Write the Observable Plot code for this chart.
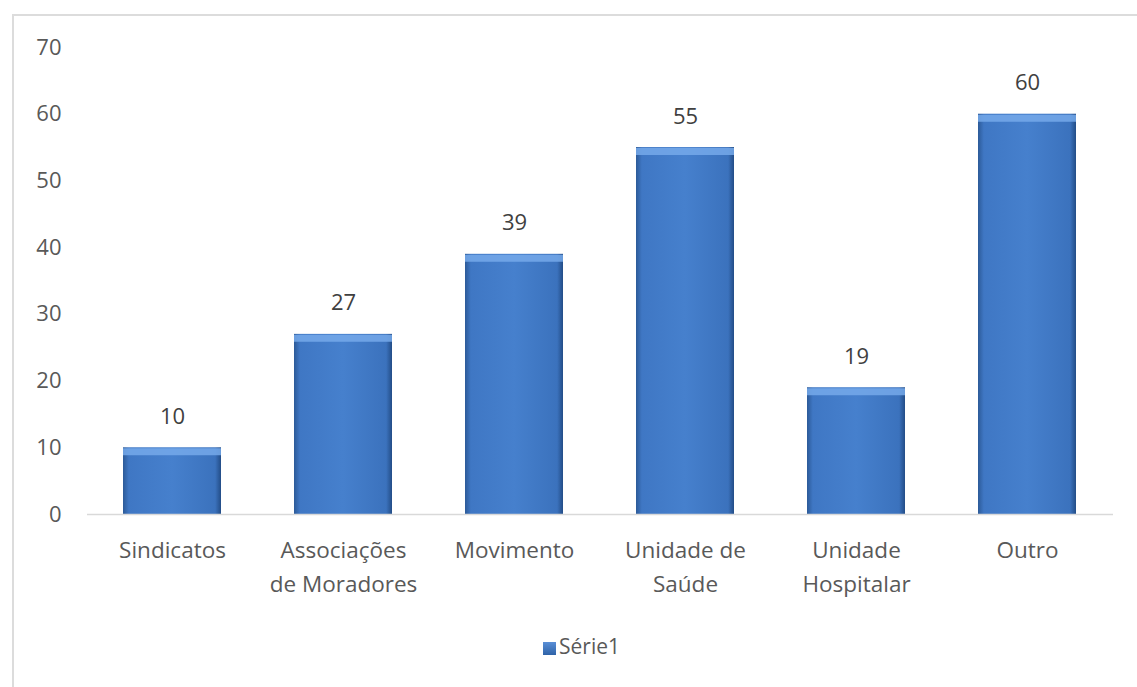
<!DOCTYPE html>
<html>
<head>
<meta charset="utf-8">
<script src="https://cdn.jsdelivr.net/npm/d3@7"></script>
<script src="https://cdn.jsdelivr.net/npm/@observablehq/plot@0.6"></script>
<style>
  html, body { margin: 0; padding: 0; background: #fff; }
  #wrap { position: relative; width: 1137px; height: 687px; overflow: hidden; font-family: "Open Sans", sans-serif; }
  #frame { position: absolute; left: 12px; top: 14px; width: 1200px; height: 800px; border-top: 2px solid #dcdcdc; border-left: 2px solid #dcdcdc; }
  #chart { position: absolute; left: 0; top: 0; }
  #legend { position: absolute; top: 632px; left: 0; width: 1137px; text-align: center; font-size: 21px; color: #595959; padding-left: 26px; box-sizing: border-box; }
  #legend .sw { display: inline-block; width: 13px; height: 13px; background: linear-gradient(#5a8fd6, #2f63a8); vertical-align: -1px; margin-right: 3px; }
</style>
</head>
<body>
<div id="wrap">
  <div id="frame"></div>
  <div id="chart"></div>
  <div id="legend"><span class="sw"></span>Série1</div>
</div>
<script>
const categories = ["Sindicatos", "Associações\nde Moradores", "Movimento", "Unidade de\nSaúde", "Unidade\nHospitalar", "Outro"];
const values = [10, 27, 39, 55, 19, 60];
const yTicks = [0, 10, 20, 30, 40, 50, 60, 70];
const seriesName = "Série1";

const data = categories.map((c, i) => ({category: c, value: values[i]}));

const chart = Plot.plot({
  width: 1137,
  height: 620,
  marginTop: 47,
  marginBottom: 106,
  marginLeft: 87,
  marginRight: 24,
  style: {fontFamily: "'Open Sans', sans-serif", fontSize: "22px", color: "#595959", background: "transparent"},
  x: {domain: categories, paddingInner: 0.425, paddingOuter: 0.2125, label: null},
  y: {domain: [0, 70], label: null},
  marks: [
    Plot.axisY({ticks: yTicks, tickSize: 0, tickPadding: 26, fontSize: 22, fill: "#595959", label: null}),
    Plot.axisX({tickSize: 0, tickPadding: 19, fontSize: 22.5, lineHeight: 1.52, fill: "#595959", label: null}),
    Plot.barY(data, {x: "category", y: "value", fill: "url(#barGrad)"}),
    Plot.tickY(data, {x: "category", y: "value", stroke: "#76a9ea", strokeWidth: 7, dy: 4, strokeOpacity: 0.85}),
    Plot.ruleY([0], {stroke: "#d9d9d9", strokeWidth: 1.5}),
    Plot.text(data, {x: "category", y: "value", text: d => String(d.value), dy: -31, fill: "#404040", fontSize: 22})
  ]
});

const ns = "http://www.w3.org/2000/svg";
const defs = document.createElementNS(ns, "defs");
const grad = document.createElementNS(ns, "linearGradient");
grad.setAttribute("id", "barGrad");
grad.setAttribute("x1", "0"); grad.setAttribute("x2", "1");
grad.setAttribute("y1", "0"); grad.setAttribute("y2", "0");
[["0", "#2c5a98"], ["0.06", "#3f77c4"], ["0.5", "#4680cd"], ["0.94", "#3b72bd"], ["1", "#234d87"]].forEach(([o, c]) => {
  const s = document.createElementNS(ns, "stop");
  s.setAttribute("offset", o); s.setAttribute("stop-color", c);
  grad.appendChild(s);
});
defs.appendChild(grad);
chart.insertBefore(defs, chart.firstChild);

document.getElementById("chart").appendChild(chart);
</script>
</body>
</html>
